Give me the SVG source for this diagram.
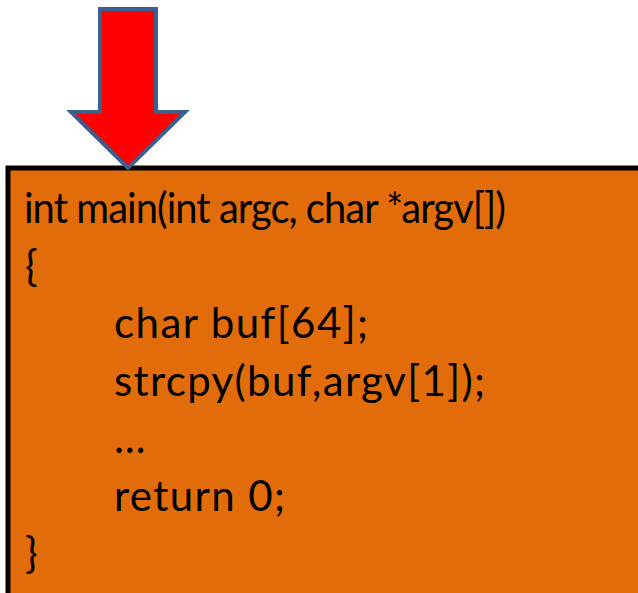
<svg xmlns="http://www.w3.org/2000/svg" width="638" height="593" viewBox="0 0 638 593">
  <style>
    .code { font-family: Lato, "Open Sans", "Liberation Sans", sans-serif; font-size: 42px; fill: #000000; }
    .tight { letter-spacing: -1px; }
  </style>
  <rect width="638" height="593" fill="#ffffff"/>
  <!-- code block, running past the right and bottom edges -->
  <g id="code-box">
    <rect x="8" y="168" width="660" height="460" fill="#E36C0A" stroke="#000000" stroke-width="5"/>
    <text class="code tight" x="24" y="223" textLength="481" lengthAdjust="spacingAndGlyphs">int main(int argc, char *argv[])</text>
    <text class="code" x="25" y="280.5">{</text>
    <text class="code" x="114" y="338" textLength="254" lengthAdjust="spacing">char buf[64];</text>
    <text class="code" x="114" y="395.5" textLength="371" lengthAdjust="spacing">strcpy(buf,argv[1]);</text>
    <text class="code" x="114" y="453">…</text>
    <text class="code" x="114" y="510.5" textLength="171" lengthAdjust="spacing">return 0;</text>
    <text class="code" x="25" y="568">}</text>
  </g>
  <!-- entry arrow pointing at the first line -->
  <g id="entry-arrow">
    <path d="M100,9 H156 V112 H185 L128,168 L71,112 H100 Z" fill="#FF0000" stroke="#3B5F8F" stroke-width="4" stroke-linejoin="miter"/>
  </g>
</svg>
